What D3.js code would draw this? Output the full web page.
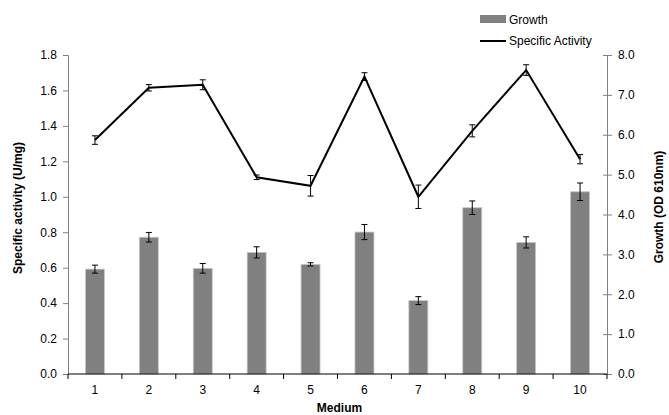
<!DOCTYPE html>
<html>
<head>
<meta charset="utf-8">
<script src="https://cdn.jsdelivr.net/npm/d3@7"></script>
<style>
  body { margin: 0; background: #fff; }
  .chart text { font-family: "Liberation Sans", Arial, sans-serif; fill: #000; }
  .axisText { font-size: 12px; font-weight: bold; }
</style>
</head>
<body>
<div class="chart"></div>
<script>
// data
var media = ["1", "2", "3", "4", "5", "6", "7", "8", "9", "10"];
var growth = [2.63, 3.43, 2.65, 3.05, 2.75, 3.56, 1.84, 4.17, 3.30, 4.57];
var growthErr = [0.10, 0.12, 0.12, 0.14, 0.04, 0.19, 0.10, 0.17, 0.14, 0.22];
var activity = [1.32, 1.615, 1.632, 1.11, 1.062, 1.678, 1.0, 1.372, 1.715, 1.212];
var activityErr = [0.024, 0.018, 0.028, 0.013, 0.058, 0.022, 0.066, 0.034, 0.030, 0.026];
var leftTicks = [0, 0.2, 0.4, 0.6, 0.8, 1.0, 1.2, 1.4, 1.6, 1.8];
var rightTicks = [0, 1, 2, 3, 4, 5, 6, 7, 8];

var svgWidth = 669;
var svgHeight = 415;

var margin = {
  top: 55,
  right: 62,
  bottom: 41,
  left: 68
};

var width = svgWidth - margin.left - margin.right;
var height = svgHeight - margin.top - margin.bottom;

var svg = d3.select(".chart")
  .append("svg")
  .attr("width", svgWidth)
  .attr("height", svgHeight);

var chartGroup = svg.append("g").attr("transform", `translate(${margin.left}, ${margin.top})`);

var rows = media.map(function(m, i) {
  return { medium: m, growth: growth[i], gErr: growthErr[i], act: activity[i], aErr: activityErr[i] };
});

// scales
var xBandScale = d3.scaleBand().domain(media).range([0, width]);
var yLeftScale = d3.scaleLinear().domain([0, 1.8]).range([height, 0]);
var yRightScale = d3.scaleLinear().domain([0, 8]).range([height, 0]);

var barWidth = 19;

// bars
chartGroup.selectAll(".bar")
  .data(rows)
  .enter()
  .append("rect")
  .attr("class", "bar")
  .attr("x", d => xBandScale(d.medium) + xBandScale.bandwidth() / 2 - barWidth / 2)
  .attr("y", d => yRightScale(d.growth))
  .attr("width", barWidth)
  .attr("height", d => height - yRightScale(d.growth))
  .attr("fill", "#808080")
  .attr("stroke", "#c8c8c8")
  .attr("stroke-width", 0.8);

// error bars helper
function errorBars(cls, yScale, val, err) {
  var g = chartGroup.selectAll("." + cls)
    .data(rows)
    .enter()
    .append("g")
    .attr("class", cls)
    .attr("stroke", "#000")
    .attr("stroke-width", 1);
  var cx = d => xBandScale(d.medium) + xBandScale.bandwidth() / 2;
  g.append("line")
    .attr("x1", cx).attr("x2", cx)
    .attr("y1", d => yScale(val(d) + err(d)))
    .attr("y2", d => yScale(val(d) - err(d)));
  g.append("line")
    .attr("x1", d => cx(d) - 3).attr("x2", d => cx(d) + 3)
    .attr("y1", d => yScale(val(d) + err(d)))
    .attr("y2", d => yScale(val(d) + err(d)));
  g.append("line")
    .attr("x1", d => cx(d) - 3).attr("x2", d => cx(d) + 3)
    .attr("y1", d => yScale(val(d) - err(d)))
    .attr("y2", d => yScale(val(d) - err(d)));
}

errorBars("gerr", yRightScale, d => d.growth, d => d.gErr);

// activity line
var line = d3.line()
  .x(d => xBandScale(d.medium) + xBandScale.bandwidth() / 2)
  .y(d => yLeftScale(d.act));

chartGroup.append("path")
  .datum(rows)
  .attr("d", line)
  .attr("fill", "none")
  .attr("stroke", "#000")
  .attr("stroke-width", 2);

errorBars("aerr", yLeftScale, d => d.act, d => d.aErr);

// axes
var yLeftAxis = d3.axisLeft(yLeftScale).tickValues(leftTicks).tickFormat(d3.format(".1f")).tickSize(5).tickPadding(6);
var yRightAxis = d3.axisRight(yRightScale).tickValues(rightTicks).tickFormat(d3.format(".1f")).tickSize(5).tickPadding(6);

var leftG = chartGroup.append("g").call(yLeftAxis);
leftG.select(".domain").attr("stroke", "#808080");
leftG.selectAll(".tick line").attr("stroke", "#808080");
leftG.selectAll("text").style("font-size", "12px");

var rightG = chartGroup.append("g").attr("transform", `translate(${width}, 0)`).call(yRightAxis);
rightG.select(".domain").attr("stroke", "#808080");
rightG.selectAll(".tick line").attr("stroke", "#808080").attr("x1", -4);
rightG.selectAll("text").style("font-size", "12px");

// x axis: ticks between categories
var xAxisG = chartGroup.append("g").attr("transform", `translate(0, ${height})`);
xAxisG.append("line")
  .attr("x1", 0).attr("x2", width)
  .attr("stroke", "#000").attr("stroke-width", 1);
xAxisG.selectAll(".sep")
  .data(d3.range(media.length + 1))
  .enter()
  .append("line")
  .attr("x1", i => i * xBandScale.step())
  .attr("x2", i => i * xBandScale.step())
  .attr("y1", 0).attr("y2", 5)
  .attr("stroke", "#000");
xAxisG.selectAll(".xlab")
  .data(media)
  .enter()
  .append("text")
  .attr("x", d => xBandScale(d) + xBandScale.bandwidth() / 2)
  .attr("y", 20)
  .attr("text-anchor", "middle")
  .style("font-size", "12px")
  .text(d => d);

// axis labels
chartGroup.append("text")
  .attr("transform", "rotate(-90)")
  .attr("y", 0 - margin.left + 22)
  .attr("x", 0 - 153)
  .attr("text-anchor", "middle")
  .attr("class", "axisText")
  .text("Specific activity (U/mg)");

chartGroup.append("text")
  .attr("transform", `translate(${width + 56}, ${152}) rotate(-90)`)
  .attr("text-anchor", "middle")
  .attr("class", "axisText")
  .text("Growth (OD 610nm)");

chartGroup.append("text")
  .attr("transform", `translate(${width / 2 + 2}, ${height + 38})`)
  .attr("text-anchor", "middle")
  .attr("class", "axisText")
  .text("Medium");

// legend
var legend = svg.append("g").attr("transform", "translate(480, 0)");
legend.append("rect")
  .attr("x", 0).attr("y", 15)
  .attr("width", 26).attr("height", 8)
  .attr("fill", "#808080");
legend.append("text")
  .attr("x", 29).attr("y", 24)
  .style("font-size", "12px")
  .text("Growth");
legend.append("line")
  .attr("x1", 0).attr("x2", 26)
  .attr("y1", 41).attr("y2", 41)
  .attr("stroke", "#000").attr("stroke-width", 2);
legend.append("text")
  .attr("x", 29).attr("y", 45)
  .style("font-size", "12px")
  .text("Specific Activity");
</script>
</body>
</html>
